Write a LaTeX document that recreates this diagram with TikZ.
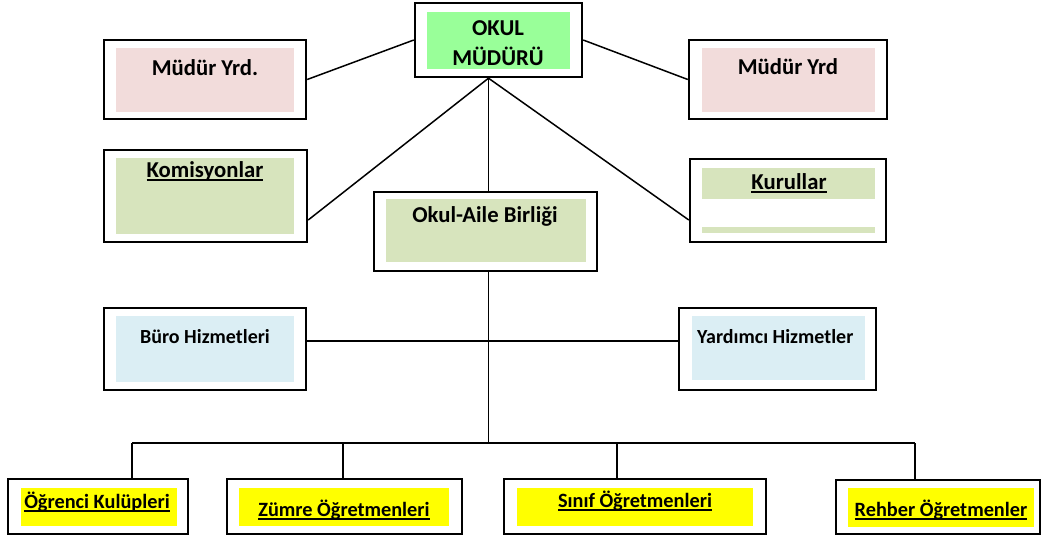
\documentclass[tikz,border=0pt]{standalone}
\usepackage{fontspec}
\setmainfont{Carlito}
\usetikzlibrary{calc}
\definecolor{mudurgreen}{HTML}{99FF99}
\definecolor{yrdpink}{HTML}{F2DCDB}
\definecolor{kurulgreen}{HTML}{D7E4BD}
\definecolor{hizmetblue}{HTML}{DBEEF4}
\definecolor{ogryellow}{HTML}{FFFF00}
\newlength\ulwidth
\newcommand{\ulin}[1]{\settowidth{\ulwidth}{#1}\rlap{\rule[-3.6pt]{\ulwidth}{1.9pt}}#1}
\tikzset{
  frame/.style={draw=black, line width=2.4pt, inner sep=0pt},
  link/.style={black, line width=1.5pt},
  lbl/.style={anchor=base, inner sep=0pt, font=\bfseries\fontsize{22.7}{27}\selectfont},
  small/.style={lbl, font=\bfseries\fontsize{20}{24}\selectfont},
  bottom/.style={lbl, font=\bfseries\fontsize{20.3}{24}\selectfont}
}
\begin{document}
\begin{tikzpicture}[x=1pt, y=1pt]
\useasboundingbox (0,0) rectangle (1042,-536);
% inner fills
\fill[mudurgreen] (427,-12) rectangle (570,-69);
\fill[yrdpink] (116,-48) rectangle (294,-112);
\fill[yrdpink] (702,-48) rectangle (875,-112);
\fill[kurulgreen] (116,-158) rectangle (294,-234);
\fill[kurulgreen] (702,-168) rectangle (875,-199);
\fill[kurulgreen] (702,-227) rectangle (875,-233);
\fill[kurulgreen] (386,-199) rectangle (586,-262);
\fill[hizmetblue] (116,-316) rectangle (294,-382);
\fill[hizmetblue] (692,-316) rectangle (865,-380);
\fill[ogryellow] (21,-488) rectangle (177,-526);
\fill[ogryellow] (239,-488) rectangle (449,-526);
\fill[ogryellow] (517,-488) rectangle (753,-526);
\fill[ogryellow] (848,-488) rectangle (1034,-527);

% frames
\node[frame, minimum width=167pt, minimum height=74pt] (mudur) at (498.5,-40) {};
\node[frame, minimum width=202pt, minimum height=79pt] (yrdL) at (205,-79.5) {};
\node[frame, minimum width=198pt, minimum height=79pt] (yrdR) at (788,-79.5) {};
\node[frame, minimum width=203pt, minimum height=92pt] (komisyon) at (205.5,-196) {};
\node[frame, minimum width=196pt, minimum height=83pt] (kurul) at (788,-200.5) {};
\node[frame, minimum width=223pt, minimum height=79pt] (veli) at (485.5,-231.5) {};
\node[frame, minimum width=202pt, minimum height=82pt] (buro) at (205,-349) {};
\node[frame, minimum width=197pt, minimum height=82pt] (yardimci) at (777.5,-349) {};
\node[frame, minimum width=180pt, minimum height=55pt] (ogrenci) at (98,-506.5) {};
\node[frame, minimum width=235pt, minimum height=55pt] (zumre) at (344.5,-506.5) {};
\node[frame, minimum width=262pt, minimum height=55pt] (sinif) at (635,-506.5) {};
\node[frame, minimum width=204pt, minimum height=54pt] (rehber) at (938,-507) {};

% texts
\node[lbl] (mudurt1) at (498,-35) {OKUL};
\node[lbl] (mudurt2) at (498,-65) {MÜDÜRÜ};
\node[lbl] (yrdLt) at (205,-75) {Müdür Yrd.};
\node[lbl] (yrdRt) at (788,-74) {Müdür Yrd};
\node[lbl] (komisyont) at (205,-177) {\ulin{Komisyonlar}};
\node[lbl] (kurult) at (789,-189) {\ulin{Kurullar}};
\node[lbl] (velit) at (485,-222) {Okul-Aile Birliği};
\node[small] (burot) at (205,-343) {Büro Hizmetleri};
\node[small, anchor=base west] (yardimcit) at (697,-343) {Yardımcı Hizmetler};
\node[bottom] (ogrencit) at (97,-508) {\ulin{Öğrenci Kulüpleri}};
\node[bottom] (zumret) at (344,-516) {\ulin{Zümre Öğretmenleri}};
\node[bottom] (sinift) at (635,-507) {\ulin{Sınıf Öğretmenleri}};
\node[bottom] (rehbert) at (941,-516) {\ulin{Rehber Öğretmenler}};

% connectors
\coordinate (apex) at ([xshift=-10pt]mudur.south);
\draw[link] (yrdL.east) -- (mudur.west);
\draw[link] (yrdR.west) -- (mudur.east);
\draw[link] (apex) -- ([yshift=-24pt]komisyon.east);
\draw[link] (apex) -- ([yshift=-19.5pt]kurul.west);
\draw[link] (apex) -- (apex |- veli.north);
\draw[link] ([yshift=8pt]buro.east) -- ([yshift=8pt]yardimci.west);
\coordinate (bus1) at (132,-443);
\coordinate (bus2) at (343,-443);
\coordinate (bus3) at (617,-443);
\coordinate (bus4) at (915,-443);
\draw[link] (apex |- veli.south) -- (apex |- bus1);
\draw[link] (bus1) -- (bus4);
\draw[link] (bus1) -- (bus1 |- ogrenci.north);
\draw[link] (bus2) -- (bus2 |- zumre.north);
\draw[link] (bus3) -- (bus3 |- sinif.north);
\draw[link] (bus4) -- (bus4 |- rehber.north);
\end{tikzpicture}
\end{document}
